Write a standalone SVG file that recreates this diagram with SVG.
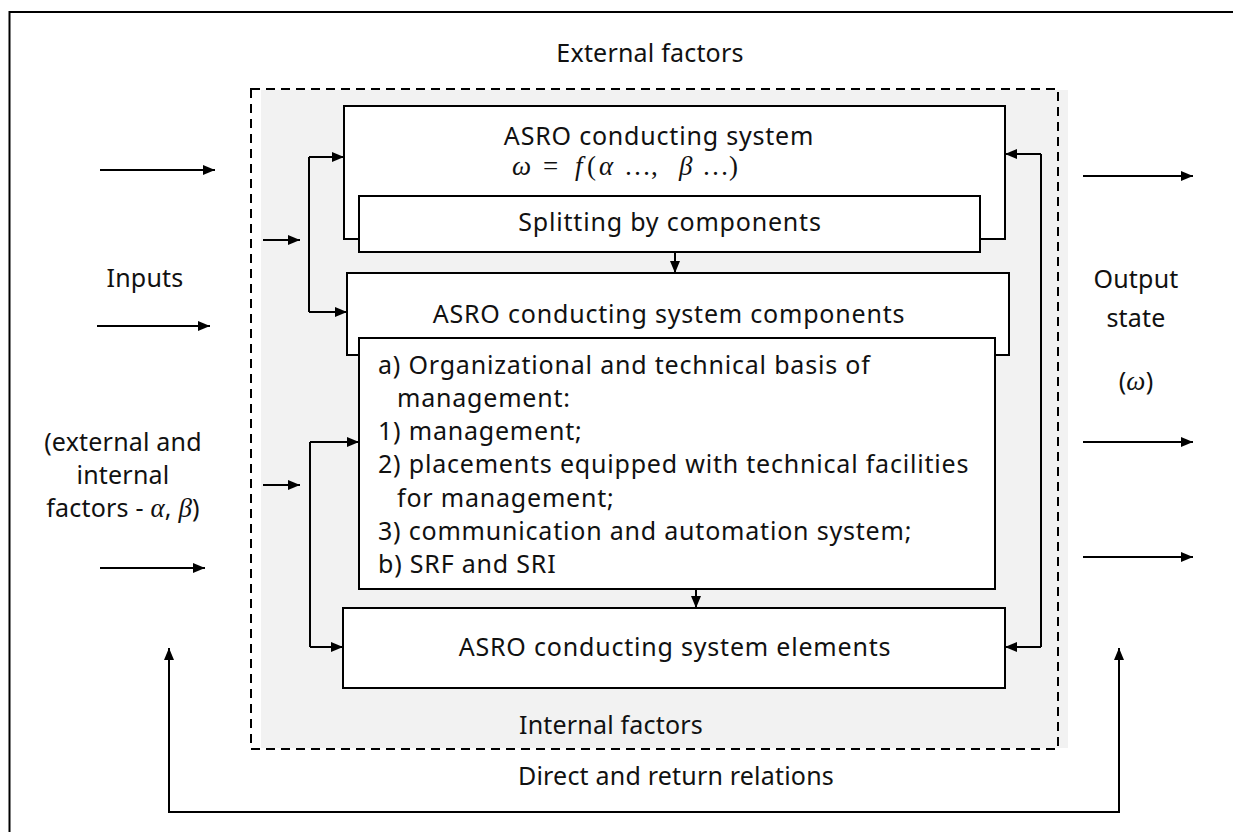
<svg xmlns="http://www.w3.org/2000/svg" width="1233" height="832" viewBox="0 0 1233 832">
<defs>
<marker id="ah" viewBox="0 0 12 10" refX="12" refY="5" markerWidth="12" markerHeight="10" markerUnits="userSpaceOnUse" orient="auto-start-reverse">
<path d="M0,0 L12,5 L0,10 Z" fill="#000"/>
</marker>
<style>
.t{font-family:"Noto Sans","Open Sans",sans-serif;font-size:25px;fill:#111;letter-spacing:0.8px;}
.l{font-family:"Noto Sans","Open Sans",sans-serif;font-size:25px;fill:#111;letter-spacing:0.2px;}
.m{font-family:"Liberation Serif","DejaVu Serif",serif;font-size:27px;fill:#111;}
.i{font-style:italic;}
.box{fill:#fff;stroke:#000;stroke-width:2;}
.c{fill:none;stroke:#000;stroke-width:2;}
.a{fill:none;stroke:#000;stroke-width:2;marker-end:url(#ah);}
</style>
</defs>
<rect width="1233" height="832" fill="#fff"/>
<path d="M1233,12 H9.5 V832" fill="none" stroke="#000" stroke-width="2"/>
<g id="system-boundary">
<rect x="261" y="90" width="807" height="658" fill="#f2f2f2"/>
<rect x="251" y="89" width="807" height="660" fill="none" stroke="#000" stroke-width="2" stroke-dasharray="9,6"/>
<text class="l" x="650" y="62" text-anchor="middle">External factors</text>
<text class="l" x="611" y="734" text-anchor="middle">Internal factors</text>
</g>
<g id="conducting-system">
<rect class="box" x="344" y="106" width="661" height="133"/>
<text class="t" x="659" y="145" text-anchor="middle">ASRO conducting system</text>
<text class="m" y="175"><tspan class="i" x="512">ω</tspan><tspan x="543">=</tspan><tspan class="i" x="575">f</tspan><tspan x="587">(</tspan><tspan class="i" x="599">α</tspan><tspan x="624">…,</tspan><tspan class="i" x="679">β</tspan><tspan x="702">…)</tspan></text>
</g>
<g id="splitting">
<rect class="box" x="359" y="196" width="621" height="56"/>
<text class="t" x="670" y="231" text-anchor="middle">Splitting by components</text>
</g>
<g id="components">
<rect class="box" x="347" y="273" width="662" height="82"/>
<text class="t" x="669" y="323" text-anchor="middle">ASRO conducting system components</text>
</g>
<g id="components-list">
<rect class="box" x="359" y="338" width="636" height="251"/>
<text class="t" x="378" y="374">a) Organizational and technical basis of</text>
<text class="t" x="397" y="407">management:</text>
<text class="t" x="378" y="440">1) management;</text>
<text class="t" x="378" y="473">2) placements equipped with technical facilities</text>
<text class="t" x="397" y="507">for management;</text>
<text class="t" x="378" y="540">3) communication and automation system;</text>
<text class="t" x="378" y="573">b) SRF and SRI</text>
</g>
<g id="elements">
<rect class="box" x="343" y="608" width="662" height="80"/>
<text class="t" x="675" y="656" text-anchor="middle">ASRO conducting system elements</text>
</g>
<g id="inputs-label">
<text class="l" x="145" y="287" text-anchor="middle">Inputs</text>
<text class="l" x="123" y="451" text-anchor="middle">(external and</text>
<text class="l" x="123" y="484" text-anchor="middle">internal</text>
<text class="l" x="123" y="517" text-anchor="middle">factors - <tspan class="m i">α</tspan>, <tspan class="m i">β</tspan>)</text>
</g>
<g id="output-label">
<text class="l" x="1136" y="288" text-anchor="middle">Output</text>
<text class="l" x="1136" y="327" text-anchor="middle">state</text>
<text class="l" x="1136" y="390" text-anchor="middle">(<tspan class="m i">ω</tspan>)</text>
</g>
<text class="l" x="676" y="785" text-anchor="middle">Direct and return relations</text>
<g id="connectors">
<path class="a" d="M100,170 H215"/>
<path class="a" d="M97,326 H210"/>
<path class="a" d="M100,568 H205"/>
<path class="a" d="M263,240 H300"/>
<path class="a" d="M263,485 H300"/>
<path class="c" d="M309,157 V312"/>
<path class="a" d="M309,157 H344"/>
<path class="a" d="M309,312 H347"/>
<path class="c" d="M310,442 V647"/>
<path class="a" d="M310,442 H359"/>
<path class="a" d="M310,647 H343"/>
<path class="c" d="M1041,154 V647"/>
<path class="a" d="M1041,154 H1005"/>
<path class="a" d="M1041,647 H1005"/>
<path class="a" d="M675,252 V273"/>
<path class="a" d="M696,589 V608"/>
<path class="a" d="M1083,176 H1193"/>
<path class="a" d="M1083,442 H1193"/>
<path class="a" d="M1083,557 H1193"/>
<path d="M169,648 V812 H1119 V648" fill="none" stroke="#000" stroke-width="2" marker-start="url(#ah)" marker-end="url(#ah)"/>
</g>
</svg>
